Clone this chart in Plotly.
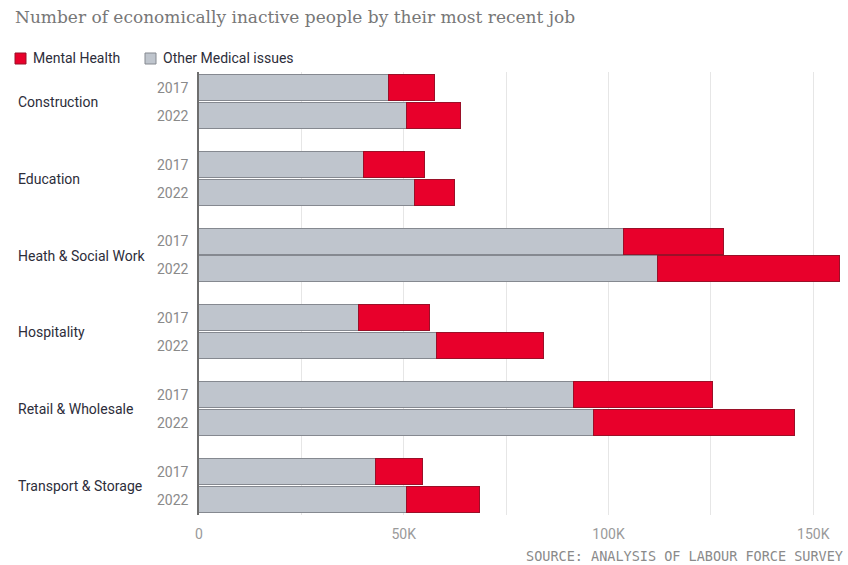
import plotly.graph_objects as go

categories = ["Construction", "Education", "Heath & Social Work", "Hospitality",
              "Retail & Wholesale", "Transport & Storage"]
years = ["2017", "2022"]
# thousands of people
other_medical = [46.3, 50.8, 40.4, 52.7, 103.8, 112.2, 39.1, 58.2, 91.6, 96.4, 43.2, 50.7]
mental_health = [11.4, 13.3, 14.7, 9.9, 24.5, 44.4, 17.2, 26.0, 34.0, 49.2, 11.6, 18.0]
x_tickvals = [0, 25, 50, 75, 100, 125, 150]
x_ticktext = ["0", "", "50K", "", "100K", "", "150K"]

W, H = 848, 565
L, R, T, B = 199, 2, 72, 50
GROUP_STEP = 2.75

ypos, ylab = [], []
for g, _ in enumerate(categories):
    for k, yr in enumerate(years):
        ypos.append(g * GROUP_STEP + k)
        ylab.append(yr)

def px_x(px):
    return (px - L) / (W - L - R)

def px_y(py):
    return (H - B - py) / (H - T - B)

RED = "#e8002b"
GREY = "#bfc5cd"
LABEL = "#2d2d3a"

fig = go.Figure()
fig.add_trace(go.Bar(
    y=ypos, x=other_medical, orientation="h", name="Other Medical issues",
    marker=dict(color=GREY, line=dict(color="#858990", width=1)), width=0.93,
    showlegend=False, hovertemplate="%{x}K<extra>Other Medical issues</extra>"))
fig.add_trace(go.Bar(
    y=ypos, x=mental_health, orientation="h", name="Mental Health",
    marker=dict(color=RED, line=dict(color="#9a1028", width=1)), width=0.93,
    showlegend=False, hovertemplate="%{x}K<extra>Mental Health</extra>"))

annotations = []
for g, cat in enumerate(categories):
    annotations.append(dict(
        text=cat, xref="paper", yref="y", x=px_x(16), y=g * GROUP_STEP + 0.5,
        xanchor="left", yanchor="middle", showarrow=False,
        font=dict(family="Roboto, Arial, sans-serif", size=14, color=LABEL)))

# legend (manual)
shapes = []
legend_items = [("Mental Health", RED, "#9a1028", 15), ("Other Medical issues", GREY, "#858990", 145)]
for name, col, lc, x0 in legend_items:
    shapes.append(dict(type="rect", xref="paper", yref="paper",
                       x0=px_x(x0), x1=px_x(x0 + 11), y0=px_y(64), y1=px_y(53),
                       fillcolor=col, line=dict(color=lc, width=1)))
    annotations.append(dict(text=name, xref="paper", yref="paper", x=px_x(x0 + 16),
                            y=px_y(58.5), xanchor="left", yanchor="middle", showarrow=False,
                            font=dict(family="Roboto, Arial, sans-serif", size=14, color=LABEL)))

annotations.append(dict(text="SOURCE: ANALYSIS OF LABOUR FORCE SURVEY", xref="paper", yref="paper",
                        x=px_x(845), y=px_y(556), xanchor="right", yanchor="middle",
                        showarrow=False,
                        font=dict(family="DejaVu Sans Mono, monospace", size=13.5, color="#8a8a8a")))

fig.update_layout(
    width=W, height=H,
    margin=dict(l=L, r=R, t=T, b=B),
    paper_bgcolor="white", plot_bgcolor="white",
    barmode="stack", bargap=0,
    title=dict(text="Number of economically inactive people by their most recent job",
               x=15 / W, xanchor="left", xref="container",
               y=1 - 17 / H, yanchor="middle", yref="container",
               font=dict(family="DejaVu Serif, Georgia, serif", size=17, color="#777777")),
    xaxis=dict(range=[0, 158], tickvals=x_tickvals, ticktext=x_ticktext,
               showgrid=True, gridcolor="#e6e6e6", gridwidth=1, zeroline=False,
               showline=False, tickfont=dict(family="Roboto, Arial, sans-serif", size=14, color="#9a9a9a"),
               ticks="outside", ticklen=6, tickcolor="rgba(0,0,0,0)", fixedrange=True),
    yaxis=dict(range=[5 * GROUP_STEP + 1 + 0.54, -0.57], tickvals=ypos, ticktext=ylab,
               showgrid=False, zeroline=False, showline=True, linecolor="#6e6e6e", linewidth=1.5,
               tickfont=dict(family="Roboto, Arial, sans-serif", size=14, color="#8a8a8a"),
               ticks="outside", ticklen=6, tickcolor="rgba(0,0,0,0)", fixedrange=True),
    shapes=shapes,
    annotations=annotations,
    showlegend=False,
)

fig.write_html("out.html")
